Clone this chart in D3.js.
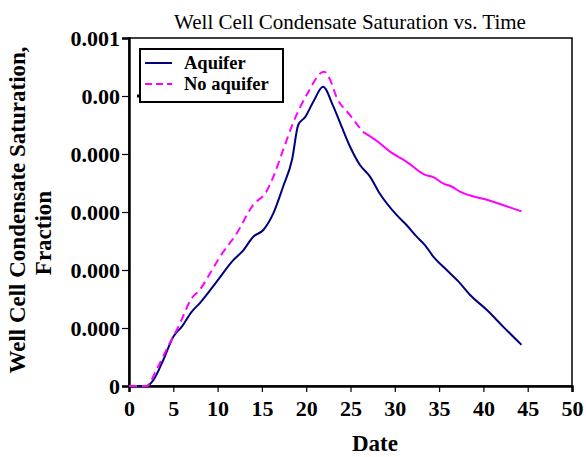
<!DOCTYPE html>
<html>
<head>
<meta charset="utf-8">
<script src="https://cdn.jsdelivr.net/npm/d3@7"></script>
<style>
  html, body { margin: 0; padding: 0; background: #fff; }
  svg { display: block; }
  text { font-family: "Liberation Serif", "Times New Roman", serif; fill: #000; }
</style>
</head>
<body>
<svg id="chart" width="586" height="457"></svg>
<script>
// Well cell condensate saturation (fraction) against time
const aquiferDate = [0, 2.0, 2.75, 3.87, 5.0, 5.94, 7.07, 8.0, 9.9, 11.77, 12.9, 14.0, 15.16, 16.3, 17.4, 18.4, 19.1, 19.9, 20.8, 21.9, 23.06, 24.0, 24.94, 26.07, 27.2, 28.3, 30.2, 31.3, 32.5, 33.4, 34.35, 35.86, 37.2, 38.5, 40.4, 42.25, 44.3];
const aquiferSat = [0, 0, 0.00002, 0.0000896, 0.00017, 0.000204, 0.000256, 0.000286, 0.00036, 0.000434, 0.000468, 0.000514, 0.000538, 0.000596, 0.000688, 0.00078, 0.0009, 0.000928, 0.00098, 0.001032, 0.000964, 0.000894, 0.000826, 0.000762, 0.000722, 0.000664, 0.00059, 0.000556, 0.000514, 0.000486, 0.000446, 0.0004, 0.00036, 0.000314, 0.000262, 0.000204, 0.000142];

const noAquiferDate = [0, 2.0, 3.1, 4.6, 5.57, 7.07, 8.0, 9.14, 10.27, 12.15, 14.0, 15.5, 16.3, 17.4, 18.5, 20.06, 22.0, 22.7, 23.4, 24.94, 26.4, 28.1, 29.46, 31.3, 33.4, 34.35, 35.5, 36.4, 37.36, 40.4, 44.3];
const noAquiferSat = [0, 0, 0.000056, 0.000148, 0.000204, 0.000302, 0.000332, 0.000388, 0.000446, 0.000526, 0.000624, 0.00067, 0.000722, 0.000814, 0.000906, 0.001004, 0.001084, 0.001056, 0.000998, 0.000934, 0.000876, 0.000842, 0.000808, 0.000774, 0.000728, 0.00072, 0.000698, 0.000688, 0.00067, 0.000642, 0.000602];

const xTicks = [0, 5, 10, 15, 20, 25, 30, 35, 40, 45, 50];
const yTicks = [0, 0.0002, 0.0004, 0.0006, 0.0008, 0.001, 0.0012];
const yTickLabels = ["0", "0.000", "0.000", "0.000", "0.000", "0.00", "0.001"];

const seriesNames = ["Aquifer", "No aquifer"];
const seriesColors = ["#000080", "#ff00ff"];

const svg = d3.select("#chart");
const plot = { left: 129, right: 572, top: 38, bottom: 386 };

const x = d3.scaleLinear().domain([0, 50]).range([plot.left, plot.right]);
const y = d3.scaleLinear().domain([0, 0.0012]).range([plot.bottom, plot.top]);

// Plot frame
svg.append("rect")
  .attr("x", plot.left).attr("y", plot.top)
  .attr("width", plot.right - plot.left).attr("height", plot.bottom - plot.top)
  .attr("fill", "none").attr("stroke", "#000").attr("stroke-width", 1.5);

// Y axis
const yAxis = d3.axisLeft(y).tickValues(yTicks)
  .tickFormat((d, i) => yTickLabels[i]).tickSize(7).tickPadding(2);
const gy = svg.append("g").attr("transform", `translate(${plot.left},0)`).call(yAxis);
gy.select(".domain").attr("stroke-width", 2.5);
gy.selectAll(".tick line").attr("stroke-width", 1.2);
gy.selectAll(".tick text")
  .style("font-family", '"Liberation Serif", "Times New Roman", serif')
  .style("font-size", "22px").style("font-weight", "bold").attr("dy", "0.36em");

// X axis
const xAxis = d3.axisBottom(x).tickValues(xTicks).tickSize(6).tickPadding(8);
const gx = svg.append("g").attr("transform", `translate(0,${plot.bottom})`).call(xAxis);
gx.select(".domain").attr("stroke-width", 2.5);
gx.selectAll(".tick line").attr("stroke-width", 1.2);
gx.selectAll(".tick text")
  .style("font-family", '"Liberation Serif", "Times New Roman", serif')
  .style("font-size", "22px").style("font-weight", "bold");

// Series lines
const line = d3.line().x(d => x(d[0])).y(d => y(d[1])).curve(d3.curveMonotoneX);

const aquiferPts = d3.zip(aquiferDate, aquiferSat);
svg.append("path").datum(aquiferPts)
  .attr("d", line).attr("fill", "none")
  .attr("stroke", seriesColors[0]).attr("stroke-width", 2);

const noAqPts = d3.zip(noAquiferDate, noAquiferSat);
const splitIdx = noAquiferDate.indexOf(26.4);
svg.append("path").datum(noAqPts.slice(0, splitIdx + 1))
  .attr("d", line).attr("fill", "none")
  .attr("stroke", seriesColors[1]).attr("stroke-width", 2)
  .attr("stroke-dasharray", "8,5");
svg.append("path").datum(noAqPts.slice(splitIdx))
  .attr("d", line).attr("fill", "none")
  .attr("stroke", seriesColors[1]).attr("stroke-width", 2);

// Title
svg.append("text")
  .attr("x", 350).attr("y", 29).attr("text-anchor", "middle")
  .style("font-size", "21px")
  .text("Well Cell Condensate Saturation vs. Time");

// Axis titles
svg.append("text")
  .attr("x", 375).attr("y", 451).attr("text-anchor", "middle")
  .style("font-size", "23px").style("font-weight", "bold")
  .text("Date");

svg.append("text")
  .attr("transform", "translate(25,210) rotate(-90)")
  .attr("text-anchor", "middle")
  .style("font-size", "23px").style("font-weight", "bold")
  .text("Well Cell Condensate Saturation,");
svg.append("text")
  .attr("transform", "translate(51,233) rotate(-90)")
  .attr("text-anchor", "middle")
  .style("font-size", "23px").style("font-weight", "bold")
  .text("Fraction");

// Legend
const legend = svg.append("g");
legend.append("rect")
  .attr("x", 140).attr("y", 49).attr("width", 143).attr("height", 53)
  .attr("fill", "#fff").attr("stroke", "#000").attr("stroke-width", 2);
legend.append("rect").attr("x", 137).attr("y", 94.5).attr("width", 3).attr("height", 3).attr("fill", "#000");
seriesNames.forEach((name, i) => {
  const ly = 63 + i * 21;
  legend.append("line")
    .attr("x1", 145).attr("x2", 172).attr("y1", ly).attr("y2", ly)
    .attr("stroke", seriesColors[i]).attr("stroke-width", 2)
    .attr("stroke-dasharray", i === 1 ? "7,4" : null);
  legend.append("text")
    .attr("x", 184).attr("y", ly + 6)
    .style("font-size", "18.5px").style("font-weight", "bold")
    .text(name);
});
</script>
</body>
</html>
